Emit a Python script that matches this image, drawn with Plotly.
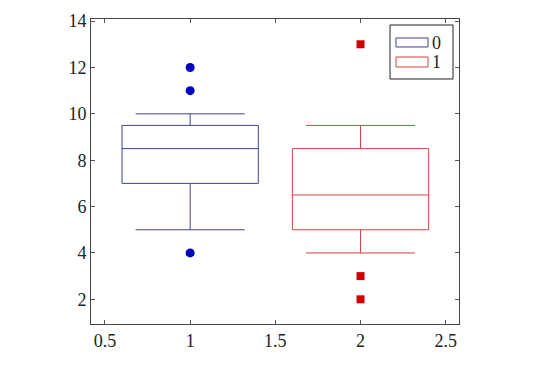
import plotly.graph_objects as go

# Box statistics
positions = [1, 2]
names = ["0", "1"]
lower_whisker = [5, 4]
q1 = [7, 5]
median = [8.5, 6.5]
q3 = [9.5, 8.5]
upper_whisker = [10, 9.5]
outliers_0 = [4, 11, 12]
outliers_1 = [2, 3, 13]

line_colors = ["rgb(65,65,150)", "rgb(205,70,70)"]
marker_colors = ["rgb(0,0,190)", "rgb(204,0,0)"]
FONT = "Liberation Serif, DejaVu Serif, serif"

fig = go.Figure()
for i in range(2):
    fig.add_trace(go.Box(
        x=[positions[i]], q1=[q1[i]], median=[median[i]], q3=[q3[i]],
        lowerfence=[lower_whisker[i]], upperfence=[upper_whisker[i]],
        name=names[i], width=0.8, whiskerwidth=0.8,
        line=dict(color=line_colors[i], width=1),
        fillcolor="rgba(255,255,255,0)", boxpoints=False, showlegend=False,
    ))

fig.add_trace(go.Scatter(x=[positions[0]] * len(outliers_0), y=outliers_0, mode="markers",
                         marker=dict(color=marker_colors[0], size=9, symbol="circle"),
                         showlegend=False))
fig.add_trace(go.Scatter(x=[positions[1]] * len(outliers_1), y=outliers_1, mode="markers",
                         marker=dict(color=marker_colors[1], size=8, symbol="square"),
                         showlegend=False))

axis_common = dict(showgrid=False, zeroline=False, showline=True, linecolor="#444",
                   linewidth=1, mirror="ticks", ticks="inside", ticklen=4,
                   tickcolor="#555", tickfont=dict(family=FONT, size=18, color="#222"))

# manual legend (pgfplots style) in paper coordinates
shapes = [
    dict(type="rect", xref="paper", yref="paper", x0=0.8125, x1=0.9837, y0=0.8033, y1=0.9803,
         line=dict(color="#222", width=1), fillcolor="white", layer="above"),
    dict(type="rect", xref="paper", yref="paper", x0=0.8288, x1=0.9158, y0=0.9082, y1=0.9377,
         line=dict(color=line_colors[0], width=1), fillcolor="white", layer="above"),
    dict(type="rect", xref="paper", yref="paper", x0=0.8288, x1=0.9158, y0=0.8426, y1=0.8754,
         line=dict(color=line_colors[1], width=1), fillcolor="white", layer="above"),
]
annotations = [
    dict(xref="paper", yref="paper", x=0.925, y=0.9229, text=names[0], showarrow=False,
         xanchor="left", yanchor="middle", height=18, borderpad=0,
         font=dict(family=FONT, size=18, color="#222")),
    dict(xref="paper", yref="paper", x=0.925, y=0.859, text=names[1], showarrow=False,
         xanchor="left", yanchor="middle", height=18, borderpad=0,
         font=dict(family=FONT, size=18, color="#222")),
]

fig.update_layout(
    width=540, height=366,
    margin=dict(l=91, r=81, t=19, b=42),
    plot_bgcolor="white", paper_bgcolor="white",
    font=dict(family=FONT, size=18, color="#222"),
    xaxis=dict(range=[0.418, 2.578], tickvals=[0.5, 1, 1.5, 2, 2.5],
               ticktext=["0.5", "1", "1.5", "2", "2.5"], **axis_common),
    yaxis=dict(range=[0.935, 14.09], tickvals=[2, 4, 6, 8, 10, 12, 14], **axis_common),
    shapes=shapes, annotations=annotations,
    showlegend=False,
)

fig.write_html("out.html", config={"displayModeBar": False},
               post_script="document.body.style.margin='0';document.body.style.overflow='hidden';")
